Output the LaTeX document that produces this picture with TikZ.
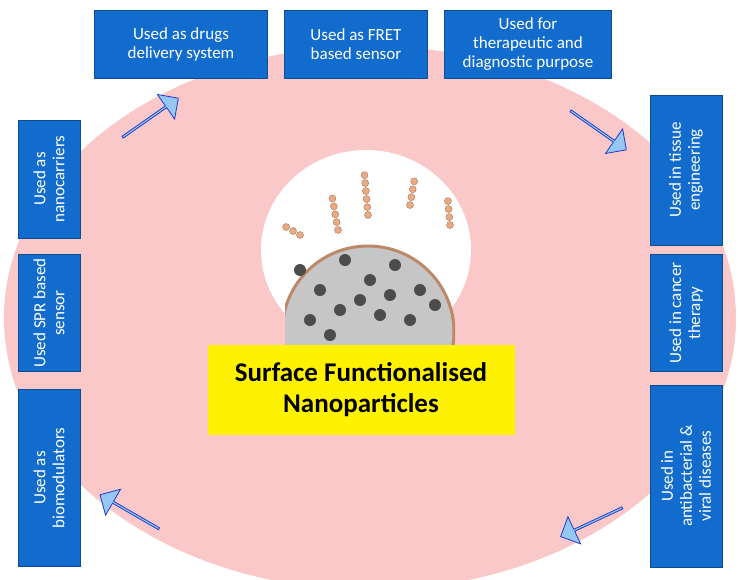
\documentclass[tikz,border=0pt]{standalone}
\usepackage{fontspec}
\setmainfont{Carlito}
\usetikzlibrary{shapes.arrows, calc}
\definecolor{boxblue}{RGB}{18,108,205}
\definecolor{arrowfill}{RGB}{150,200,245}
\definecolor{arrowline}{RGB}{30,60,200}
\definecolor{ovalpink}{RGB}{250,200,200}
\definecolor{beadorange}{RGB}{235,170,130}
\tikzset{
  usebox/.style={draw=boxblue!70!black, fill=boxblue, text=white, font=\fontsize{17}{19}\selectfont, align=center, inner sep=2pt},
  sidebox/.style={usebox, rotate=90},
  blockarrow/.style={single arrow, draw=arrowline, thick, fill=arrowfill, minimum width=30pt, single arrow head extend=5pt, minimum height=68pt, inner sep=0pt},
  bead/.style={circle, draw=beadorange!70!black, fill=beadorange, inner sep=0pt, minimum size=7pt}
}
\begin{document}
\begin{tikzpicture}[x=1pt, y=-1pt]
\useasboundingbox (0,0) rectangle (742,579);
\fill[ovalpink] (370,318) ellipse [x radius=366, y radius=272];
% particle
\fill[white] (366,250) ellipse [x radius=105, y radius=100];
\begin{scope}
  \clip (285,200) rectangle (455,345);
  \draw[beadorange!80!black, line width=3pt, fill=gray!45] (368,332) circle (86);
  \foreach \px/\py in {300/270, 320/290, 345/260, 370/280, 395/265, 420/290, 340/310, 380/315, 410/320, 330/335, 360/300, 435/305, 310/320, 390/295}
    \fill[black!70] (\px,\py) circle (6);
\end{scope}
\foreach \cx/\cy/\ang/\n in {338/230/-100/4, 368/215/-95/5, 410/205/-80/3, 450/225/-95/3, 300/235/-150/2}
  \foreach \k in {0,...,\n}
    \node[bead] at ($(\cx,\cy)+(\ang:\k*8)$) {};
% title
\node[fill=yellow, minimum width=307pt, minimum height=90pt, align=center, font=\fontsize{27}{31}\selectfont\bfseries] (title) at (361,390) {Surface Functionalised\\Nanoparticles};
% top boxes
\node[usebox, minimum width=173pt, minimum height=68pt] (drugs) at (181,44) {Used as drugs\\delivery system};
\node[usebox, minimum width=143pt, minimum height=68pt] (fret) at (356,44) {Used as FRET\\based sensor};
\node[usebox, minimum width=167pt, minimum height=68pt] (thera) at (528,44) {Used for\\therapeutic and\\diagnostic purpose};
% left boxes
\node[sidebox, minimum width=118pt, minimum height=62pt] (carriers) at (49,179) {Used as\\nanocarriers};
\node[sidebox, minimum width=117pt, minimum height=62pt] (spr) at (49,313) {Used SPR based\\sensor};
\node[sidebox, minimum width=177pt, minimum height=62pt] (biomod) at (49,478) {Used as\\biomodulators};
% right boxes
\node[sidebox, minimum width=150pt, minimum height=72pt] (tissue) at (686,170) {Used in tissue\\engineering};
\node[sidebox, minimum width=117pt, minimum height=72pt] (cancer) at (686,313) {Used in cancer\\therapy};
\node[sidebox, minimum width=182pt, minimum height=72pt] (antibac) at (686,476) {Used in\\antibacterial \&\\viral diseases};
% arrows
\node[blockarrow, rotate=35] (arrowA) at (150,118) {};
\node[blockarrow, rotate=-35] (arrowB) at (598,130) {};
\node[blockarrow, rotate=205] (arrowC) at (592,522) {};
\node[blockarrow, rotate=150] (arrowD) at (130,512) {};
\end{tikzpicture}
\end{document}
